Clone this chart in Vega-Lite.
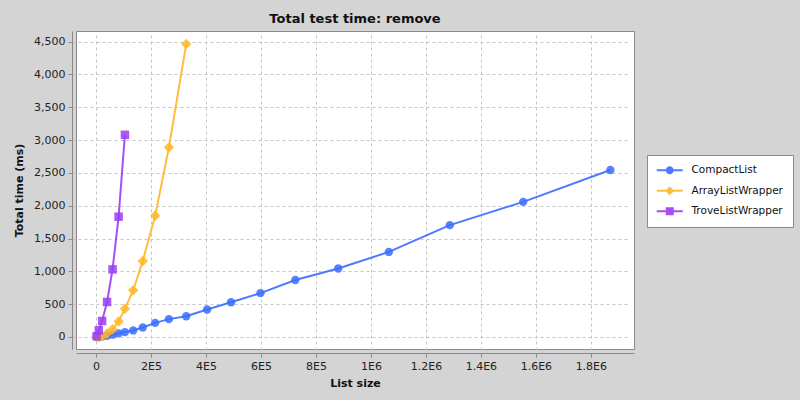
{
  "$schema": "https://vega.github.io/schema/vega-lite/v6.json",
  "autosize": "none",
  "width": 558,
  "height": 318,
  "padding": {"left": 76, "top": 31, "right": 166, "bottom": 51},
  "background": "#d4d4d4",
  "title": {"text": "Total test time: remove", "fontSize": 13, "fontWeight": "bold", "font": "DejaVu Sans", "color": "#111111", "offset": 5, "frame": "group", "anchor": "middle"},
  "config": {
    "font": "DejaVu Sans",
    "view": {"fill": "white", "stroke": "#8a8a8a", "strokeWidth": 1},
    "axis": {
      "offset": 4,
      "grid": true,
      "gridDash": [3, 3],
      "gridColor": "#c4c4c4",
      "gridWidth": 1,
      "domainColor": "#8a8a8a",
      "tickColor": "#8a8a8a",
      "tickSize": 4,
      "labelFont": "DejaVu Sans",
      "labelFontSize": 11,
      "labelColor": "#222222",
      "labelPadding": 3,
      "labelFlush": false,
      "labelOverlap": false,
      "titleFont": "DejaVu Sans",
      "titleFontSize": 11,
      "titleFontWeight": "bold",
      "titleColor": "#111111"
    },
    "legend": {
      "title": null,
      "orient": "none",
      "legendX": 571,
      "legendY": 124,
      "padding": 10,
      "fillColor": "white",
      "strokeColor": "#8a8a8a",
      "symbolSize": 100,
      "symbolStrokeWidth": 0,
      "symbolOpacity": 0.9,
      "symbolOffset": 7.5,
      "labelOffset": 16.5,
      "labelFont": "DejaVu Sans",
      "labelFontSize": 10.5,
      "labelColor": "#111111",
      "rowPadding": 9.5
    }
  },
  "data": {"values": [
    {"s": "CompactList", "x": 2000, "y": 0},
    {"s": "CompactList", "x": 10000, "y": 2},
    {"s": "CompactList", "x": 22000, "y": 8},
    {"s": "CompactList", "x": 40000, "y": 18},
    {"s": "CompactList", "x": 60000, "y": 35},
    {"s": "CompactList", "x": 82000, "y": 55},
    {"s": "CompactList", "x": 105000, "y": 74},
    {"s": "CompactList", "x": 135000, "y": 100},
    {"s": "CompactList", "x": 170000, "y": 145},
    {"s": "CompactList", "x": 215000, "y": 215},
    {"s": "CompactList", "x": 265000, "y": 272},
    {"s": "CompactList", "x": 328000, "y": 316},
    {"s": "CompactList", "x": 404000, "y": 418},
    {"s": "CompactList", "x": 491000, "y": 529},
    {"s": "CompactList", "x": 598000, "y": 668},
    {"s": "CompactList", "x": 725000, "y": 868},
    {"s": "CompactList", "x": 881000, "y": 1043},
    {"s": "CompactList", "x": 1065000, "y": 1296},
    {"s": "CompactList", "x": 1287000, "y": 1704},
    {"s": "CompactList", "x": 1554000, "y": 2059},
    {"s": "CompactList", "x": 1871000, "y": 2544},
    {"s": "ArrayListWrapper", "x": 2000, "y": 0},
    {"s": "ArrayListWrapper", "x": 10000, "y": 1},
    {"s": "ArrayListWrapper", "x": 22000, "y": 11},
    {"s": "ArrayListWrapper", "x": 40000, "y": 52},
    {"s": "ArrayListWrapper", "x": 60000, "y": 117},
    {"s": "ArrayListWrapper", "x": 82000, "y": 237},
    {"s": "ArrayListWrapper", "x": 105000, "y": 430},
    {"s": "ArrayListWrapper", "x": 135000, "y": 712},
    {"s": "ArrayListWrapper", "x": 170000, "y": 1159},
    {"s": "ArrayListWrapper", "x": 215000, "y": 1846},
    {"s": "ArrayListWrapper", "x": 265000, "y": 2889},
    {"s": "ArrayListWrapper", "x": 328000, "y": 4465},
    {"s": "TroveListWrapper", "x": 2000, "y": 12},
    {"s": "TroveListWrapper", "x": 10000, "y": 102},
    {"s": "TroveListWrapper", "x": 22000, "y": 244},
    {"s": "TroveListWrapper", "x": 40000, "y": 534},
    {"s": "TroveListWrapper", "x": 60000, "y": 1030},
    {"s": "TroveListWrapper", "x": 82000, "y": 1833},
    {"s": "TroveListWrapper", "x": 105000, "y": 3081}
  ]},
  "encoding": {
    "x": {
      "field": "x", "type": "quantitative",
      "scale": {"domain": [-73000, 1957000], "nice": false, "zero": false},
      "axis": {
        "title": "List size",
        "values": [0, 200000, 400000, 600000, 800000, 1000000, 1200000, 1400000, 1600000, 1800000],
        "labelExpr": "datum.value == 0 ? '0' : datum.value >= 1000000 ? format(datum.value/1000000, '~g') + 'E6' : format(datum.value/100000, '~g') + 'E5'",
        "titlePadding": 6
      }
    },
    "y": {
      "field": "y", "type": "quantitative",
      "scale": {"domain": [-183, 4662], "nice": false, "zero": false},
      "axis": {
        "title": "Total time (ms)",
        "values": [0, 500, 1000, 1500, 2000, 2500, 3000, 3500, 4000, 4500],
        "format": ",d",
        "titlePadding": 9
      }
    },
    "color": {
      "field": "s", "type": "nominal",
      "scale": {"domain": ["CompactList", "ArrayListWrapper", "TroveListWrapper"], "range": ["#3a6cff", "#ffb626", "#9a3cf5"]}
    }
  },
  "layer": [
    {
      "mark": {"type": "line", "strokeWidth": 2, "opacity": 0.9}
    },
    {
      "transform": [{"filter": "datum.s == 'CompactList'"}],
      "mark": {"type": "point", "filled": true, "opacity": 0.85, "shape": "circle", "size": 70}
    },
    {
      "transform": [{"filter": "datum.s == 'ArrayListWrapper'"}],
      "mark": {"type": "point", "filled": true, "opacity": 0.85, "shape": "diamond", "size": 110}
    },
    {
      "transform": [{"filter": "datum.s == 'TroveListWrapper'"}],
      "mark": {"type": "point", "filled": true, "opacity": 0.85, "shape": "square", "size": 72}
    },
    {
      "transform": [{"filter": "false"}],
      "mark": {"type": "point", "filled": true, "opacity": 0.9},
      "encoding": {
        "shape": {
          "field": "s", "type": "nominal",
          "scale": {
            "domain": ["CompactList", "ArrayListWrapper", "TroveListWrapper"],
            "range": [
              "M-2.6,-0.2H2.6V0.2H-2.6Z M0.8,0A0.8,0.8,0,1,1,-0.8,0A0.8,0.8,0,1,1,0.8,0Z",
              "M-2.6,-0.2H2.6V0.2H-2.6Z M0,-0.9L0.9,0L0,0.9L-0.9,0Z",
              "M-2.6,-0.2H2.6V0.2H-2.6Z M-0.8,-0.8H0.8V0.8H-0.8Z"
            ]
          }
        }
      }
    }
  ]
}
